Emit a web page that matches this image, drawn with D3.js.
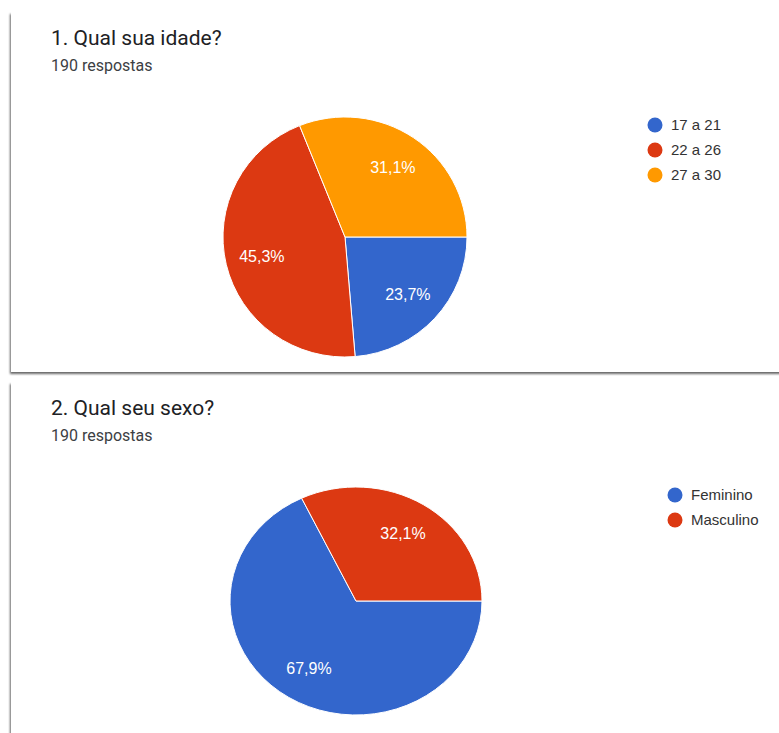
<!DOCTYPE html>
<html>
<head>
<meta charset="utf-8">
<script src="https://cdn.jsdelivr.net/npm/d3@7"></script>
<style>
  html, body { margin: 0; padding: 0; background: #ffffff; }
  svg { display: block; }
</style>
</head>
<body>
<svg id="chart" width="779" height="733"></svg>
<script>
// Survey responses (percent of 190 answers)
const ageCategories = ["17 a 21", "22 a 26", "27 a 30"];
const ageValues = [23.7, 45.3, 31.1];
const ageColors = ["#3366cc", "#dc3912", "#ff9900"];

const sexCategories = ["Feminino", "Masculino"];
const sexValues = [67.9, 32.1];
const sexColors = ["#3366cc", "#dc3912"];

const questionTitles = ["1. Qual sua idade?", "2. Qual seu sexo?"];
const responseCounts = ["190 respostas", "190 respostas"];

const svg = d3.select("#chart");

// soft card shadow
const defs = svg.append("defs");
const f = defs.append("filter").attr("id", "cardShadow")
  .attr("x", "-5%").attr("y", "-5%").attr("width", "110%").attr("height", "115%");
f.append("feDropShadow")
  .attr("dx", -1).attr("dy", 2).attr("stdDeviation", 1.3)
  .attr("flood-color", "#000").attr("flood-opacity", 0.6);

const fmt = v => d3.format(".1f")(v).replace(".", ",") + "%";

const panels = [
  {
    title: questionTitles[0], count: responseCounts[0],
    cats: ageCategories, vals: ageValues, colors: ageColors,
    card: { x: 11, y: 12, w: 800, h: 360 },
    cx: 345, cy: 237, rx: 122, ry: 120,
    legendX: 655, legendY: 125
  },
  {
    title: questionTitles[1], count: responseCounts[1],
    cats: sexCategories, vals: sexValues, colors: sexColors,
    card: { x: 11, y: 382, w: 800, h: 400 },
    cx: 356, cy: 601, rx: 126, ry: 114,
    legendX: 675, legendY: 495
  }
];

panels.forEach(p => {
  const g = svg.append("g");

  g.append("rect")
    .attr("x", p.card.x).attr("y", p.card.y)
    .attr("width", p.card.w).attr("height", p.card.h)
    .attr("fill", "#ffffff")
    .attr("filter", "url(#cardShadow)");

  g.append("text")
    .attr("x", p.card.x + 40).attr("y", p.card.y + 33)
    .attr("font-family", "Roboto, 'Open Sans', sans-serif")
    .attr("font-size", 21)
    .attr("fill", "#202124")
    .text(p.title);

  g.append("text")
    .attr("x", p.card.x + 40).attr("y", p.card.y + 59)
    .attr("font-family", "Roboto, 'Open Sans', sans-serif")
    .attr("font-size", 16)
    .attr("fill", "#3c4043")
    .text(p.count);

  // pie, starting at 3 o'clock and running clockwise
  const pie = d3.pie().sort(null).value(d => d)
    .startAngle(Math.PI / 2).endAngle(Math.PI / 2 + 2 * Math.PI);
  const arcs = pie(p.vals);
  const arc = d3.arc().innerRadius(0).outerRadius(p.rx);
  const labelArc = d3.arc().innerRadius(p.rx * 0.7).outerRadius(p.rx * 0.7);
  const sy = p.ry / p.rx;

  const pieG = g.append("g")
    .attr("transform", `translate(${p.cx},${p.cy}) scale(1,${sy})`);
  pieG.selectAll("path").data(arcs).enter().append("path")
    .attr("d", arc)
    .attr("fill", (d, i) => p.colors[i])
    .attr("stroke", "#ffffff")
    .attr("stroke-width", 1)
    .attr("vector-effect", "non-scaling-stroke");

  g.selectAll("text.slice").data(arcs).enter().append("text")
    .attr("class", "slice")
    .attr("x", d => p.cx + labelArc.centroid(d)[0])
    .attr("y", d => p.cy + labelArc.centroid(d)[1] * sy)
    .attr("dy", "0.36em")
    .attr("text-anchor", "middle")
    .attr("font-family", "'Liberation Sans', Arial, sans-serif")
    .attr("font-size", 16)
    .attr("fill", "#ffffff")
    .text(d => fmt(d.data));

  const leg = g.append("g").attr("transform", `translate(${p.legendX},${p.legendY})`);
  const items = leg.selectAll("g").data(p.cats).enter().append("g")
    .attr("transform", (d, i) => `translate(0,${i * 25})`);
  items.append("circle").attr("r", 7.5).attr("fill", (d, i) => p.colors[i]);
  items.append("text")
    .attr("x", 16).attr("dy", "0.36em")
    .attr("font-family", "'Liberation Sans', Arial, sans-serif")
    .attr("font-size", 15)
    .attr("fill", "#333333")
    .text(d => d);
});
</script>
</body>
</html>
